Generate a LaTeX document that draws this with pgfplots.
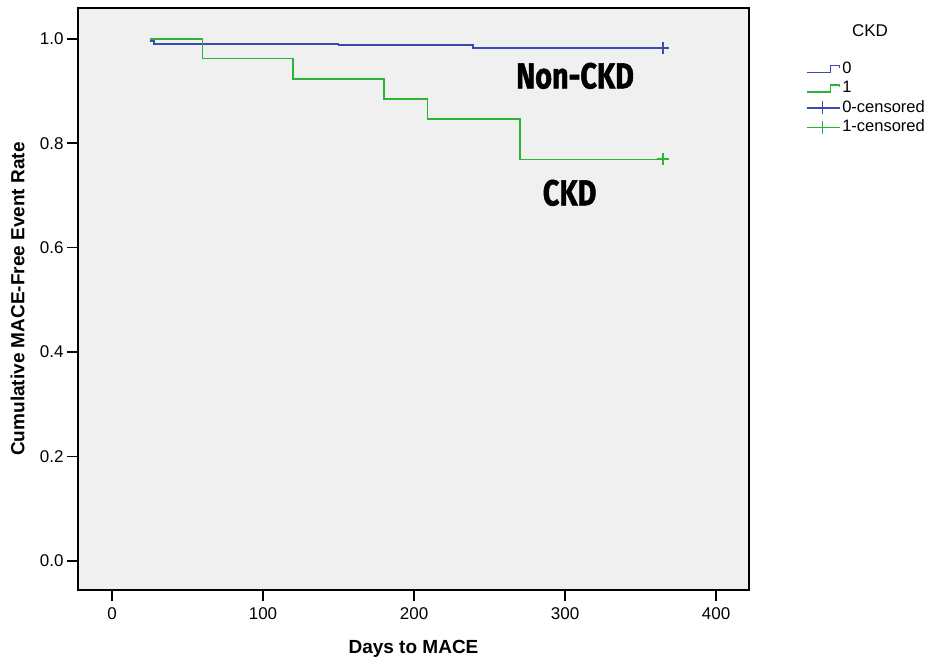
\documentclass[border=0pt]{standalone}
\usepackage{fontspec}
\setmainfont{Liberation Sans}
\newfontfamily\labfont[BoldFeatures={FakeBold=1.6}]{Fira Sans}
\usepackage{pgfplots}
\pgfplotsset{compat=1.18}
\usepackage{graphicx}

\definecolor{kmblue}{RGB}{58,74,176}
\definecolor{kmgreen}{RGB}{44,178,52}
\definecolor{panel}{RGB}{240,240,240}

\pgfplotsset{
    steplegend/.style={legend image code/.code={
        \draw[##1] (0pt,-3.5pt) -- (24pt,-3.5pt) -- (24pt,3.5pt) -- (33pt,3.5pt) -- (33pt,1pt);}},
    censlegend/.style={legend image code/.code={
        \draw[##1] (0pt,0pt) -- (33pt,0pt); \draw[##1] (16pt,-6.5pt) -- (16pt,6.5pt);}},
}

\begin{document}
\begin{tikzpicture}
\begin{axis}[
    name=ax,
    scale only axis,
    clip=false,
    width=671pt, height=582pt,
    xmin=-22.5, xmax=421.8,
    ymin=-0.0556, ymax=1.059,
    xtick={0,100,200,300,400},
    ytick={0,0.2,0.4,0.6,0.8,1.0},
    yticklabel style={/pgf/number format/.cd,fixed,fixed zerofill,precision=1},
    xticklabel style={yshift=-3pt},
    /pgf/number format/assume math mode=true,
    ticklabel style={font=\fontsize{17}{20}\selectfont},
    tick align=outside,
    major tick length=11pt,
    xtick pos=bottom, ytick pos=left,
    tick style={line width=1.5pt, black},
    axis line style={line width=1.5pt, black},
    axis background/.style={fill=panel},
    xlabel={Days to MACE},
    ylabel={Cumulative MACE-Free Event Rate},
    every axis x label/.style={at={(rel axis cs:0.5,0)}, anchor=center, yshift=-59pt,
        font=\bfseries\fontsize{19}{22}\selectfont},
    every axis y label/.style={at={(rel axis cs:0,0.5)}, anchor=center, rotate=90, yshift=60.5pt,
        font=\bfseries\fontsize{19}{22}\selectfont},
    legend style={at={(rel axis cs:1.08,0.916)}, anchor=north west, draw=none, fill=none,
        font=\fontsize{16.5}{18}\selectfont, row sep=0pt,
        nodes={inner sep=2pt, text height=12pt, text depth=3.5pt}},
    legend cell align=left,
]
% CKD = 0
\addplot[kmblue, line width=1.7pt, const plot, forget plot] coordinates {
    (25,0.996) (28,0.990) (150,0.988) (239,0.982) (365,0.982)
};
% CKD = 1
\addplot[kmgreen, line width=1.7pt, const plot, forget plot] coordinates {
    (25,1.000) (60,0.962) (120,0.923) (180,0.885) (209,0.846) (270,0.769) (365,0.769)
};
% censored
\addplot[kmblue, only marks, mark=+, mark size=6pt, line width=2pt, forget plot] coordinates {(365,0.982)};
\addplot[kmgreen, only marks, mark=+, mark size=6pt, line width=2pt, forget plot] coordinates {(365,0.769)};

\addlegendimage{kmblue, line width=1.4pt, steplegend}
\addlegendentry{0}
\addlegendimage{kmgreen, line width=1.4pt, steplegend}
\addlegendentry{1}
\addlegendimage{kmblue, line width=1.4pt, censlegend}
\addlegendentry{0-censored}
\addlegendimage{kmgreen, line width=1.4pt, censlegend}
\addlegendentry{1-censored}

\node[font=\fontsize{17}{20}\selectfont] at (rel axis cs:1.1803,0.9605) {CKD};
\node[font=\labfont\bfseries\fontsize{36}{40}\selectfont] at (axis cs:306.6,0.929) {\scalebox{0.8}[1]{Non-CKD}};
\node[font=\labfont\bfseries\fontsize{36}{40}\selectfont] at (axis cs:303,0.705) {\scalebox{0.8}[1]{CKD}};
\end{axis}
\pgfresetboundingbox
\path[use as bounding box] ([xshift=-78pt,yshift=-71pt]ax.south west) rectangle ([xshift=186pt,yshift=8pt]ax.north east);
\end{tikzpicture}
\end{document}
